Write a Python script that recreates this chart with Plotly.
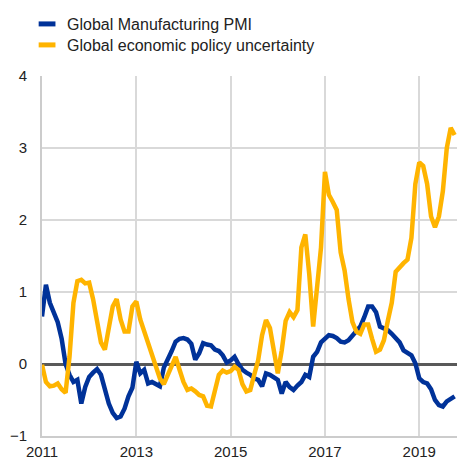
import plotly.graph_objects as go

# Monthly observations, Jan 2011 .. Oct 2019
start_year = 2011
pmi = [0.66, 1.10, 0.85, 0.72, 0.58, 0.35, 0.00, -0.15, -0.25, -0.22,
       -0.55, -0.32, -0.18, -0.12, -0.07, -0.15, -0.38, -0.55, -0.68, -0.75,
       -0.73, -0.62, -0.45, -0.33, 0.03, -0.13, -0.08, -0.27, -0.25, -0.28,
       -0.31, -0.05, 0.05, 0.18, 0.31, 0.35, 0.36, 0.34, 0.28, 0.06,
       0.15, 0.29, 0.27, 0.26, 0.20, 0.18, 0.12, 0.02, 0.05, 0.10,
       0.00, -0.08, -0.12, -0.15, -0.20, -0.22, -0.31, -0.13, -0.15, -0.18,
       -0.22, -0.41, -0.25, -0.32, -0.36, -0.30, -0.25, -0.15, -0.18, 0.10,
       0.17, 0.30, 0.36, 0.40, 0.39, 0.36, 0.31, 0.30, 0.33, 0.39,
       0.45, 0.52, 0.65, 0.80, 0.80, 0.72, 0.52, 0.50, 0.47, 0.42,
       0.36, 0.30, 0.19, 0.15, 0.12, 0.01, -0.20, -0.25, -0.27, -0.35,
       -0.50, -0.57, -0.59, -0.52, -0.48, -0.45]

epu = [-0.01, -0.25, -0.31, -0.30, -0.27, -0.35, -0.40, 0.10, 0.85, 1.15,
       1.17, 1.12, 1.13, 0.90, 0.60, 0.30, 0.20, 0.50, 0.80, 0.90,
       0.62, 0.45, 0.45, 0.80, 0.87, 0.62, 0.45, 0.27, 0.10, -0.05,
       -0.20, -0.28, -0.15, -0.05, 0.10, -0.08, -0.25, -0.36, -0.34, -0.38,
       -0.43, -0.45, -0.58, -0.59, -0.35, -0.15, -0.09, -0.12, -0.10, -0.04,
       -0.08, -0.28, -0.38, -0.36, -0.15, 0.05, 0.40, 0.61, 0.50, 0.15,
       -0.13, 0.19, 0.60, 0.72, 0.65, 0.75, 1.62, 1.80, 1.25, 0.52,
       1.05, 1.62, 2.67, 2.35, 2.25, 2.14, 1.55, 1.30, 0.90, 0.58,
       0.45, 0.42, 0.55, 0.55, 0.35, 0.17, 0.20, 0.33, 0.60, 0.85,
       1.28, 1.35, 1.40, 1.45, 1.75, 2.50, 2.80, 2.75, 2.50, 2.05,
       1.90, 2.05, 2.40, 3.00, 3.28, 3.18]

series_names = ["Global Manufacturing PMI", "Global economic policy uncertainty"]
x_ticks = [2011, 2013, 2015, 2017, 2019]
y_ticks = [-1, 0, 1, 2, 3, 4]

dates = [start_year + i / 12 for i in range(len(pmi))]

BLUE = "#003299"
YELLOW = "#FFB400"
FONT = "Arial, Liberation Sans, sans-serif"

fig = go.Figure()
for vals, name, col, lg in [(pmi, series_names[0], BLUE, "legend"),
                            (epu, series_names[1], YELLOW, "legend2")]:
    fig.add_trace(go.Scatter(x=dates, y=vals, mode="lines", name=name,
                             line=dict(color=col, width=4.5), showlegend=False,
                             hoverinfo="skip"))
    fig.add_trace(go.Scatter(x=[None], y=[None], mode="markers", name=name,
                             marker=dict(symbol="line-ew", size=12, color=col,
                                         line=dict(color=col, width=5)),
                             showlegend=True, legend=lg))

legend_common = dict(x=-0.036, xanchor="left", yanchor="middle",
                     bgcolor="rgba(0,0,0,0)", font=dict(size=16), itemwidth=30)

fig.update_layout(
    width=457, height=460,
    margin=dict(l=42, r=0, t=76, b=24, autoexpand=False),
    paper_bgcolor="white", plot_bgcolor="white",
    font=dict(family=FONT, size=15, color="#222222"),
    legend=dict(y=1.1444, **legend_common),
    legend2=dict(y=1.0861, **legend_common),
    xaxis=dict(range=[2011, 2019.80], tickvals=x_ticks,
               ticktext=[str(t) for t in x_ticks],
               showgrid=True, gridcolor="#d9d9d9", gridwidth=1.5,
               showline=True, linecolor="#cccccc", linewidth=2,
               ticks="outside", ticklen=1, tickcolor="rgba(0,0,0,0)",
               zeroline=False, fixedrange=True, automargin=False),
    yaxis=dict(range=[-1, 4], tickvals=y_ticks,
               showgrid=True, gridcolor="#d9d9d9", gridwidth=1.5,
               showline=True, linecolor="#cccccc", linewidth=2,
               zeroline=True, zerolinecolor="#595959", zerolinewidth=2.5,
               ticks="outside", ticklen=10, tickcolor="rgba(0,0,0,0)",
               fixedrange=True, automargin=False),
)

fig.write_html(
    "out.html",
    config={"displayModeBar": False},
    post_script="document.body.style.margin='0';document.body.style.overflow='hidden';",
)
